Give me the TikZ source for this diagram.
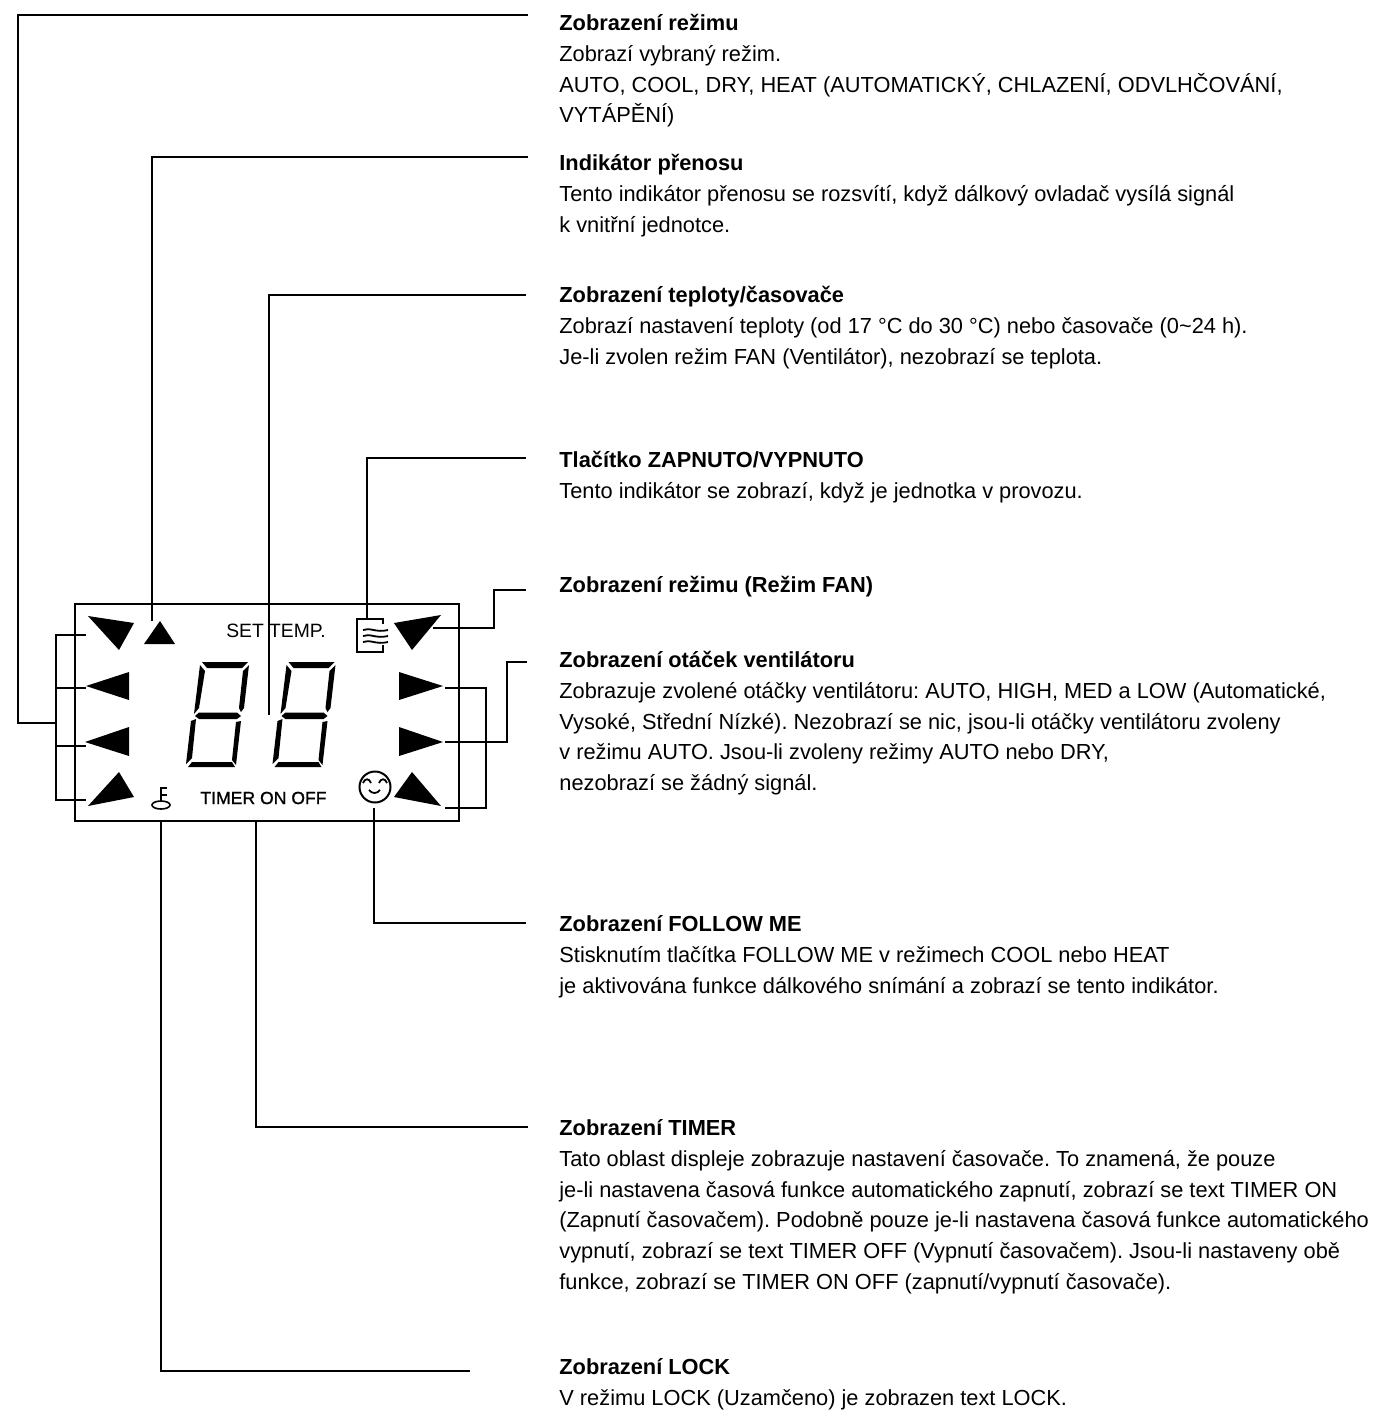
\documentclass[tikz,border=0pt]{standalone}
\usepackage{fontspec}
\setmainfont{Liberation Sans}
\usetikzlibrary{positioning}
\frenchspacing

\begin{document}
\begin{tikzpicture}[
    x=0.5pt, y=-0.5pt,
    node distance=5.15pt,
    head/.style={anchor=west, inner sep=0pt, text height=7.4pt, text depth=2pt, font=\fontsize{10.9}{15.35}\selectfont\bfseries},
    body/.style={anchor=north west, inner sep=0pt, align=left, font=\fontsize{10.9}{15.35}\selectfont},
    leader/.style={line width=1pt, line join=miter},
    lcd/.style={inner sep=0pt, font=\fontsize{9.65}{10}\selectfont},
    lcddigit/.pic={
        \fill (202,662) -- (248,662) -- (242,668) -- (207,668) -- cycle;
        \fill (200,665) -- (205,671) -- (199,708) -- (194,714) -- cycle;
        \fill (249,665) -- (244,708) -- (241,712) -- (239,708) -- (243,671) -- cycle;
        \fill (195,716) -- (199,712.5) -- (237,712.5) -- (241,716) -- (237,719) -- (199,719) -- cycle;
        \fill (191,721) -- (196,719) -- (192,758) -- (186,764) -- cycle;
        \fill (241,721) -- (236,765) -- (232,760) -- (236,722) -- cycle;
        \fill (188,767) -- (192,762) -- (232,762) -- (235,767) -- cycle;
    },
]
\useasboundingbox (0,0) rectangle (1374,1410);

% display
\node[draw, line width=1pt, minimum width=192pt, minimum height=108.5pt, inner sep=0pt] (panel) at (266.5,712) {};
\pic at (0,0) {lcddigit};
\pic at (86.5,0) {lcddigit};
\node[lcd] (settemp) at (276,631) {SET TEMP.};
\node[lcd, font=\fontsize{8.8}{10}\selectfont\addfontfeature{FakeBold=1}] (timertext) at (263.5,798) {TIMER ON OFF};

% triangles
\fill (88,616) -- (134,623) -- (119,650) -- cycle;
\fill (160,621) -- (144,644) -- (175,644) -- cycle;
\fill (86,686) -- (129,672) -- (129,700) -- cycle;
\fill (85,742) -- (129,727) -- (129,756) -- cycle;
\fill (88,806) -- (119,772) -- (134,797) -- cycle;
\fill (441,615) -- (394,623) -- (412,650) -- cycle;
\fill (399,672) -- (399,700) -- (443,686) -- cycle;
\fill (399,727) -- (399,756) -- (443,742) -- cycle;
\fill (412,772) -- (394,797) -- (441,806) -- cycle;

% key
\draw[line width=0.8pt] (161,805) ellipse (9 and 4);
\draw[line width=0.8pt] (167,788) -- (161,788) -- (161,801) (161,795) -- (167,795);

% fan icon
\draw[line width=1pt] (383,624) -- (383,619) -- (357,619) -- (357,652) -- (383,652) -- (383,645);
\foreach \y in {630,636,642}
    \draw[line width=0.9pt] (363,\y) .. controls (370,\y-3) and (376,\y+3) .. (388,\y);

% smiley
\draw[line width=1pt] (375,787) circle (15.5);
\draw[line width=0.9pt] (363,783) .. controls (365,778) and (369,778) .. (371,783);
\draw[line width=0.9pt] (379,783) .. controls (381,778) and (385,778) .. (387,783);
\draw[line width=0.9pt] (369,790) .. controls (372,794) and (377,794) .. (380,790);

% texts
\node[head] (headmode) at (559,25) {Zobrazení režimu};
\node[body, below=of headmode.south west, anchor=north west] (bodymode) {Zobrazí vybraný režim.\\AUTO, COOL, DRY, HEAT (AUTOMATICKÝ, CHLAZENÍ, ODVLHČOVÁNÍ,\\VYTÁPĚNÍ)};
\node[head] (headsend) at (559,165) {Indikátor přenosu};
\node[body, below=of headsend.south west, anchor=north west] (bodysend) {Tento indikátor přenosu se rozsvítí, když dálkový ovladač vysílá signál\\k vnitřní jednotce.};
\node[head] (headtemp) at (559,297) {Zobrazení teploty/časovače};
\node[body, below=of headtemp.south west, anchor=north west] (bodytemp) {Zobrazí nastavení teploty (od 17 °C do 30 °C) nebo časovače (0\textasciitilde 24 h).\\Je-li zvolen režim FAN (Ventilátor), nezobrazí se teplota.};
\node[head] (headpower) at (559,462) {Tlačítko ZAPNUTO/VYPNUTO};
\node[body, below=of headpower.south west, anchor=north west] (bodypower) {Tento indikátor se zobrazí, když je jednotka v provozu.};
\node[head] (headfan) at (559,587) {Zobrazení režimu (Režim FAN)};
\node[head] (headspeed) at (559,662) {Zobrazení otáček ventilátoru};
\node[body, below=of headspeed.south west, anchor=north west] (bodyspeed) {Zobrazuje zvolené otáčky ventilátoru: AUTO, HIGH, MED a LOW (Automatické,\\Vysoké, Střední Nízké). Nezobrazí se nic, jsou-li otáčky ventilátoru zvoleny\\v režimu AUTO. Jsou-li zvoleny režimy AUTO nebo DRY,\\nezobrazí se žádný signál.};
\node[head] (headfollow) at (559,926) {Zobrazení FOLLOW ME};
\node[body, below=of headfollow.south west, anchor=north west] (bodyfollow) {Stisknutím tlačítka FOLLOW ME v režimech COOL nebo HEAT\\je aktivována funkce dálkového snímání a zobrazí se tento indikátor.};
\node[head] (headtimer) at (559,1130) {Zobrazení TIMER};
\node[body, below=of headtimer.south west, anchor=north west] (bodytimer) {Tato oblast displeje zobrazuje nastavení časovače. To znamená, že pouze\\je-li nastavena časová funkce automatického zapnutí, zobrazí se text TIMER ON\\(Zapnutí časovačem). Podobně pouze je-li nastavena časová funkce automatického\\vypnutí, zobrazí se text TIMER OFF (Vypnutí časovačem). Jsou-li nastaveny obě\\funkce, zobrazí se TIMER ON OFF (zapnutí/vypnutí časovače).};
\node[head] (headlock) at (559,1369) {Zobrazení LOCK};
\node[body, below=of headlock.south west, anchor=north west] (bodylock) {V režimu LOCK (Uzamčeno) je zobrazen text LOCK.};

% leader ends
\coordinate (legA) at (86,635);
\coordinate (legB) at (86,688);
\coordinate (legC) at (86,746);
\coordinate (legD) at (86,800);
\coordinate (railL) at (56,723);
\coordinate (turnmode) at (18,723);
\coordinate (endmode) at (528,15);
\coordinate (legsend) at (152,621);
\coordinate (endsend) at (528,157);
\coordinate (legtemp) at (269,715);
\coordinate (endtemp) at (526,295);
\coordinate (legpower) at (367,619);
\coordinate (endpower) at (526,458);
\coordinate (legfan) at (433,628);
\coordinate (turnfan) at (494,590);
\coordinate (endfan) at (526,590);
\coordinate (legE) at (445,688);
\coordinate (legF) at (445,742);
\coordinate (legG) at (445,808);
\coordinate (railR) at (486,742);
\coordinate (turnspeed) at (507,742);
\coordinate (endspeed) at (527,662);
\coordinate (legfollow) at (374,808);
\coordinate (endfollow) at (526,923);
\coordinate (legtimer) at (256,821);
\coordinate (endtimer) at (528,1127);
\coordinate (leglock) at (161,821);
\coordinate (endlock) at (470,1371);

% leaders
\draw[leader] (legA) -| (railL) |- (legD);
\draw[leader] (legB) -- (legB -| railL);
\draw[leader] (legC) -- (legC -| railL);
\draw[leader] (railL) -- (turnmode) |- (endmode);
\draw[leader] (legsend) |- (endsend);
\draw[leader] (legtemp) |- (endtemp);
\draw[leader] (legpower) |- (endpower);
\draw[leader] (legfan) -| (turnfan) -- (endfan);
\draw[leader] (legE) -| (railR) |- (legG);
\draw[leader] (legF) -- (turnspeed) |- (endspeed);
\draw[leader] (legfollow) |- (endfollow);
\draw[leader] (legtimer) |- (endtimer);
\draw[leader] (leglock) |- (endlock);

\end{tikzpicture}
\end{document}
